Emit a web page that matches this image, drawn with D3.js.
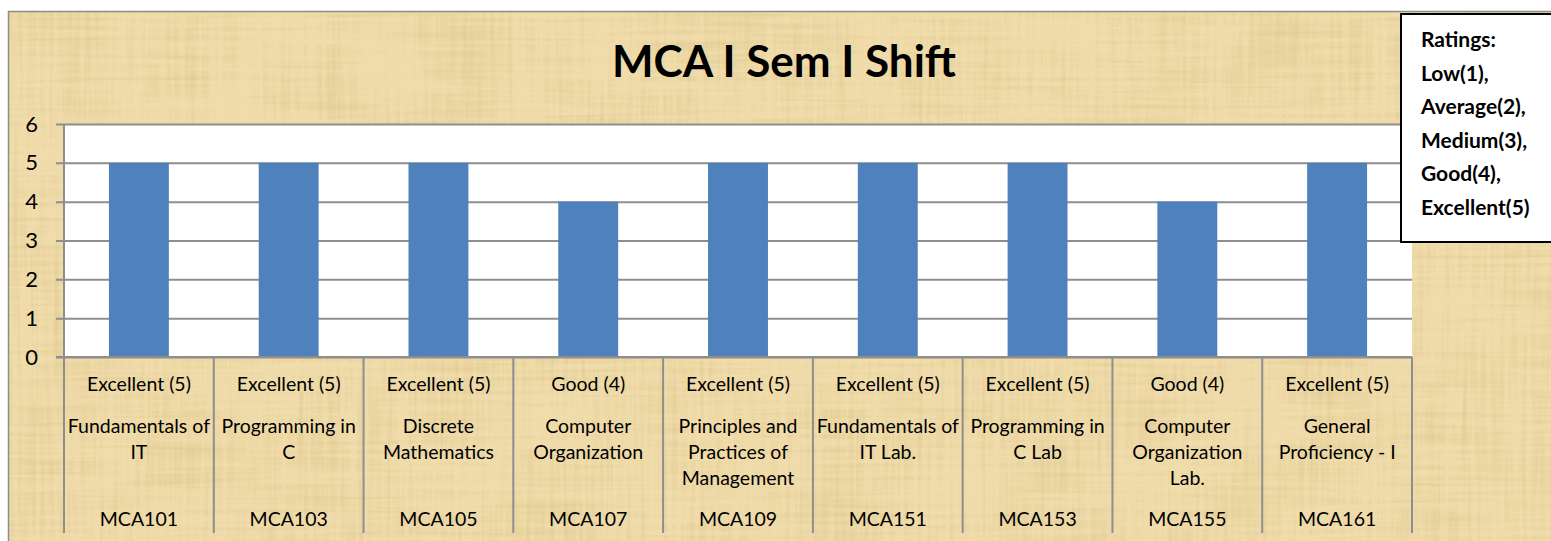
<!DOCTYPE html>
<html>
<head>
<meta charset="utf-8">
<script src="https://cdn.jsdelivr.net/npm/d3@7"></script>
<style>
  html, body { margin: 0; padding: 0; background: #fff; }
  #plotDiv { width: 1551px; height: 541px; }
  text { font-family: Lato, "Open Sans", sans-serif; fill: #000; }
</style>
</head>
<body>
<div id="plotDiv"></div>
<script>
// chart data
var codes = ["MCA101", "MCA103", "MCA105", "MCA107", "MCA109", "MCA151", "MCA153", "MCA155", "MCA161"];
var subjects = [
    "Fundamentals of|IT",
    "Programming in|C",
    "Discrete|Mathematics",
    "Computer|Organization",
    "Principles and|Practices of|Management",
    "Fundamentals of|IT Lab.",
    "Programming in|C Lab",
    "Computer|Organization|Lab.",
    "General|Proficiency - I"
];
var ratings = [5, 5, 5, 4, 5, 5, 5, 4, 5];
var ratingNames = ["Low", "Average", "Medium", "Good", "Excellent"];
var yTicks = [0, 1, 2, 3, 4, 5, 6];
var title = "MCA I Sem I Shift";

window.addEventListener("load", makeChart);

function makeChart() {
    var W = 1551, H = 541;
    var plot = {left: 64, right: 1412, top: 124, bottom: 357};

    var svg = d3.select("#plotDiv")
        .append("svg")
        .attr("width", W)
        .attr("height", H);

    // papyrus-like texture for the chart area
    var defs = svg.append("defs");
    var f = defs.append("filter")
        .attr("id", "papyrus")
        .attr("x", 0).attr("y", 0).attr("width", 1).attr("height", 1);
    f.append("feTurbulence")
        .attr("type", "fractalNoise")
        .attr("baseFrequency", "0.008 0.22")
        .attr("numOctaves", 3)
        .attr("seed", 4)
        .attr("result", "hz");
    f.append("feTurbulence")
        .attr("type", "fractalNoise")
        .attr("baseFrequency", "0.22 0.008")
        .attr("numOctaves", 3)
        .attr("seed", 9)
        .attr("result", "vt");
    f.append("feTurbulence")
        .attr("type", "fractalNoise")
        .attr("baseFrequency", "0.01")
        .attr("numOctaves", 2)
        .attr("seed", 2)
        .attr("result", "blot");
    f.append("feComposite")
        .attr("in", "hz").attr("in2", "vt")
        .attr("operator", "arithmetic")
        .attr("k1", 0).attr("k2", 0.5).attr("k3", 0.5).attr("k4", 0)
        .attr("result", "mix");
    f.append("feComposite")
        .attr("in", "mix").attr("in2", "blot")
        .attr("operator", "arithmetic")
        .attr("k1", 0).attr("k2", 0.75).attr("k3", 0.25).attr("k4", 0)
        .attr("result", "mix2");
    f.append("feColorMatrix")
        .attr("in", "mix2")
        .attr("type", "matrix")
        .attr("values",
              "0 0 0 0 0.62 " +
              "0 0 0 0 0.48 " +
              "0 0 0 0 0.18 " +
              "-1.4 0 0 0 0.78")
        .attr("result", "shade");
    f.append("feComposite")
        .attr("in", "shade").attr("in2", "SourceGraphic")
        .attr("operator", "in")
        .attr("result", "shadeIn");
    f.append("feMerge").call(function(m) {
        m.append("feMergeNode").attr("in", "SourceGraphic");
        m.append("feMergeNode").attr("in", "shadeIn");
    });

    svg.append("rect")
        .attr("x", 8).attr("y", 11)
        .attr("width", W - 8).attr("height", H - 11)
        .attr("fill", "#f0dcaa")
        .attr("filter", "url(#papyrus)");
    svg.append("path")
        .attr("d", "M8.5," + H + "V11.5H" + W)
        .attr("fill", "none")
        .attr("stroke", "#8c8c8c")
        .attr("stroke-width", 1.5);

    // title
    svg.append("text")
        .attr("x", 784)
        .attr("y", 77)
        .attr("text-anchor", "middle")
        .style("font-weight", "bold")
        .style("font-size", "44px")
        .text(title);

    var x = d3.scaleBand()
        .domain(codes)
        .range([plot.left, plot.right])
        .paddingInner(0.6)
        .paddingOuter(0.3);

    var y = d3.scaleLinear()
        .domain([0, 6])
        .range([plot.bottom, plot.top]);

    svg.append("rect")
        .attr("x", plot.left).attr("y", plot.top)
        .attr("width", plot.right - plot.left)
        .attr("height", plot.bottom - plot.top)
        .attr("fill", "#fff");

    // y axis with gridlines
    var yAxis = d3.axisLeft(y)
        .tickValues(yTicks)
        .tickSize(-(plot.right - plot.left))
        .tickPadding(26)
        .tickFormat(d3.format("d"));
    var gy = svg.append("g")
        .attr("transform", "translate(" + plot.left + ",0)")
        .call(yAxis);
    gy.select(".domain").remove();
    gy.selectAll(".tick line")
        .attr("x1", -8)
        .attr("stroke", "#8e8e8e")
        .attr("stroke-width", 2);
    gy.selectAll(".tick text")
        .style("font-family", "Lato, sans-serif")
        .style("font-size", "22px")
        .attr("fill", "#000");

    // bars
    svg.append("g")
        .selectAll("rect")
        .data(ratings)
        .enter()
        .append("rect")
        .attr("x", function(d, i) { return x(codes[i]); })
        .attr("y", function(d) { return y(d); })
        .attr("width", x.bandwidth())
        .attr("height", function(d) { return y(0) - y(d); })
        .attr("fill", "#4f81bd");

    // multi level category axis
    var step = x.step();
    var seps = d3.range(codes.length + 1).map(function(i) { return plot.left + i * step; });
    svg.append("g")
        .selectAll("line")
        .data(seps)
        .enter()
        .append("line")
        .attr("x1", function(d) { return d; })
        .attr("x2", function(d) { return d; })
        .attr("y1", function(d, i) { return i === 0 ? plot.top : plot.bottom; })
        .attr("y2", 533)
        .attr("stroke", "#8e8e8e")
        .attr("stroke-width", 2);
    svg.append("line")
        .attr("x1", plot.left - 8).attr("x2", plot.right)
        .attr("y1", plot.bottom).attr("y2", plot.bottom)
        .attr("stroke", "#8e8e8e")
        .attr("stroke-width", 2);

    var cats = svg.append("g")
        .style("font-size", "19.5px")
        .attr("text-anchor", "middle");
    var cat = cats.selectAll("g")
        .data(codes)
        .enter()
        .append("g")
        .attr("transform", function(d) {
            return "translate(" + (x(d) + x.bandwidth() / 2) + ",0)";
        });
    cat.append("text")
        .attr("y", 391)
        .text(function(d, i) { return ratingNames[ratings[i] - 1] + " (" + ratings[i] + ")"; });
    cat.append("text")
        .attr("y", 433)
        .each(function(d, i) {
            var t = d3.select(this);
            subjects[i].split("|").forEach(function(line, j) {
                t.append("tspan").attr("x", 0).attr("dy", j === 0 ? 0 : 26).text(line);
            });
        });
    cat.append("text")
        .attr("y", 526)
        .text(function(d) { return d; });

    // ratings note box
    var lg = svg.append("g");
    lg.append("rect")
        .attr("x", 1401).attr("y", 14)
        .attr("width", 170).attr("height", 228)
        .attr("fill", "#fff")
        .attr("stroke", "#000")
        .attr("stroke-width", 2);
    var legendLines = ["Ratings:"].concat(ratingNames.map(function(n, i) {
        return n + "(" + (i + 1) + ")" + (i < ratingNames.length - 1 ? "," : "");
    }));
    lg.selectAll("text")
        .data(legendLines)
        .enter()
        .append("text")
        .attr("x", 1421)
        .attr("y", function(d, i) { return 47 + i * 33.5; })
        .style("font-weight", "bold")
        .style("font-size", "21px")
        .text(function(d) { return d; });
}
</script>
</body>
</html>
